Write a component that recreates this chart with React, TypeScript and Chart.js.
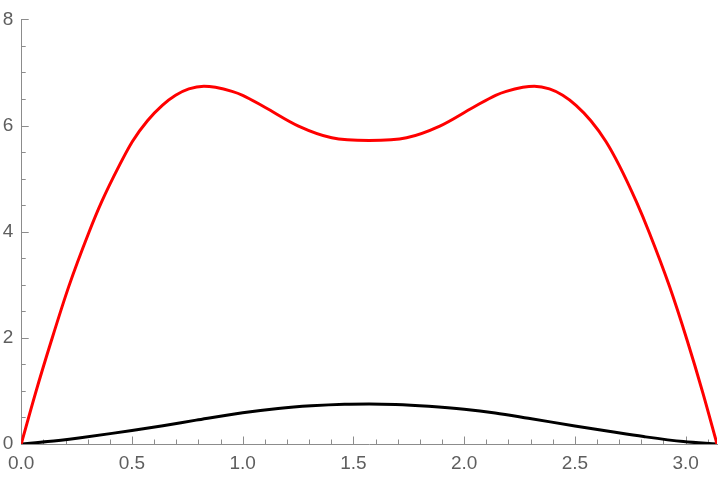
import { useEffect, useRef } from "react";
import { Chart, registerables } from "chart.js";

Chart.register(...registerables);

// ---- data ----
const redX = [0, 0.064, 0.135, 0.215, 0.306, 0.364, 0.442, 0.502, 0.57, 0.637, 0.697, 0.757, 0.825, 0.877, 0.952, 1.0, 1.102, 1.252, 1.402, 1.5708, 1.74, 1.89, 2.04, 2.142, 2.19, 2.265, 2.317, 2.385, 2.445, 2.505, 2.572, 2.64, 2.7, 2.778, 2.836, 2.927, 3.007, 3.078, 3.14159];
const redY = [0, 0.95, 1.93, 2.97, 3.99, 4.57, 5.24, 5.7, 6.09, 6.38, 6.57, 6.69, 6.74, 6.72, 6.645, 6.57, 6.34, 5.99, 5.77, 5.72, 5.77, 5.99, 6.34, 6.57, 6.645, 6.72, 6.74, 6.69, 6.57, 6.38, 6.09, 5.7, 5.25, 4.56, 3.98, 2.97, 1.95, 0.96, 0];

const blackX = [0, 0.12, 0.26, 0.41, 0.5, 0.64, 0.79, 1.0, 1.16, 1.31, 1.46, 1.5708, 1.69, 1.84, 2.0, 2.14, 2.29, 2.5, 2.66, 2.81, 2.99, 3.14159];
const blackY = [0, 0.045, 0.115, 0.2, 0.255, 0.345, 0.45, 0.59, 0.67, 0.72, 0.75, 0.755, 0.745, 0.71, 0.655, 0.585, 0.485, 0.34, 0.235, 0.14, 0.045, 0];

const xTickValues = [0, 0.5, 1.0, 1.5, 2.0, 2.5, 3.0];
const yTickValues = [0, 2, 4, 6, 8];
const xMinorStep = 0.1;
const yMinorStep = 0.5;

const X_MIN = 0;
const X_MAX = Math.PI;
const Y_MIN = 0;
const Y_MAX = 8;

const AXIS_COLOR = "#8c8c8c";
const LABEL_COLOR = "#5e5e5e";
const FONT = { family: "'Liberation Sans', Arial, sans-serif", size: 19 };

const toPoints = (xs: number[], ys: number[]) => xs.map((x, i) => ({ x, y: ys[i] }));

const inwardTicks = {
  id: "inwardTicks",
  beforeDatasetsDraw(chart: any) {
    const { ctx, chartArea, scales } = chart;
    const xs = scales.x;
    const ys = scales.y;
    ctx.save();
    ctx.strokeStyle = AXIS_COLOR;
    ctx.lineWidth = 1;
    ctx.beginPath();
    const nx = Math.round((X_MAX - X_MIN) / xMinorStep);
    for (let i = 1; i <= nx; i++) {
      const v = X_MIN + i * xMinorStep;
      if (v > X_MAX) break;
      const major = xTickValues.some((t) => Math.abs(t - v) < 1e-6);
      const len = major ? 7.5 : 4.5;
      const px = Math.round(xs.getPixelForValue(v)) + 0.5;
      ctx.moveTo(px, chartArea.bottom);
      ctx.lineTo(px, chartArea.bottom - len);
    }
    const ny = Math.round((Y_MAX - Y_MIN) / yMinorStep);
    for (let i = 1; i <= ny; i++) {
      const v = Y_MIN + i * yMinorStep;
      const major = yTickValues.some((t) => Math.abs(t - v) < 1e-6);
      const len = major ? 7.5 : 4.5;
      const py = Math.round(ys.getPixelForValue(v)) + 0.5;
      ctx.moveTo(chartArea.left, py);
      ctx.lineTo(chartArea.left + len, py);
    }
    ctx.stroke();
    ctx.restore();
  },
};

export default function App() {
  const ref = useRef<HTMLCanvasElement | null>(null);

  useEffect(() => {
    if (!ref.current) return;
    const chart = new Chart(ref.current, {
      type: "scatter",
      data: {
        datasets: [
          {
            data: toPoints(redX, redY),
            showLine: true,
            borderColor: "#ff0000",
            borderWidth: 3,
            pointRadius: 0,
            fill: false,
            cubicInterpolationMode: "monotone",
          },
          {
            data: toPoints(blackX, blackY),
            showLine: true,
            borderColor: "#000000",
            borderWidth: 3,
            pointRadius: 0,
            fill: false,
            cubicInterpolationMode: "monotone",
          },
        ],
      },
      options: {
        animation: false,
        responsive: false,
        devicePixelRatio: 1,
        layout: { padding: { top: 12, right: 3, left: 0, bottom: 0 } },
        plugins: { legend: { display: false }, tooltip: { enabled: false } },
        scales: {
          x: {
            type: "linear",
            min: X_MIN,
            max: X_MAX,
            afterBuildTicks: (s: any) => {
              s.ticks = xTickValues.map((v) => ({ value: v }));
            },
            afterFit: (s: any) => {
              s.height = 36;
            },
            ticks: {
              color: LABEL_COLOR,
              font: FONT,
              padding: 8,
              maxRotation: 0,
              autoSkip: false,
              callback: (v: any) => Number(v).toFixed(1),
            },
            grid: { drawOnChartArea: false, drawTicks: false },
            border: { color: AXIS_COLOR, width: 1 },
          },
          y: {
            type: "linear",
            min: Y_MIN,
            max: Y_MAX,
            afterBuildTicks: (s: any) => {
              s.ticks = yTickValues.map((v) => ({ value: v }));
            },
            afterFit: (s: any) => {
              s.width = 19;
            },
            ticks: {
              color: LABEL_COLOR,
              font: FONT,
              padding: 8,
              autoSkip: false,
              callback: (v: any) => String(v),
            },
            grid: { drawOnChartArea: false, drawTicks: false },
            border: { color: AXIS_COLOR, width: 1 },
          },
        },
      },
      plugins: [inwardTicks],
    } as any);
    return () => chart.destroy();
  }, []);

  return (
    <div style={{ position: "absolute", left: 0, top: 0, width: 720, height: 480, background: "#fff" }}>
      <canvas ref={ref} width={720} height={480} />
    </div>
  );
}
